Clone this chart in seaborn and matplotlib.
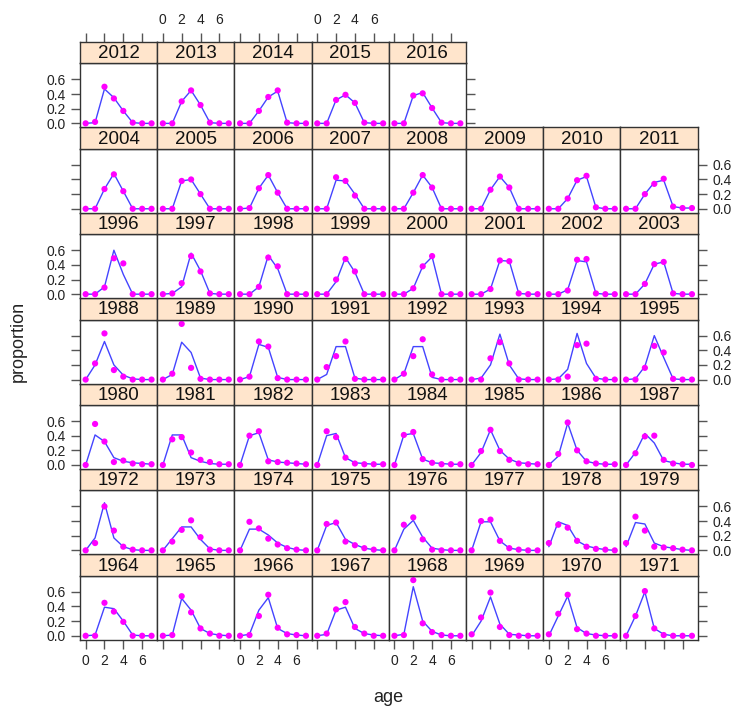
import matplotlib
matplotlib.use("Agg")
import matplotlib.pyplot as plt
import seaborn as sns

# catch-at-age proportions by year: observed points and fitted line
years = list(range(1964, 2017))
ages = [0, 1, 2, 3, 4, 5, 6, 7]

observed = [
    [0, 0, 0.45, 0.33, 0.19, 0, 0, 0],            # 1964
    [0, 0.01, 0.54, 0.32, 0.10, 0.03, 0, 0],      # 1965
    [0, 0.01, 0.27, 0.56, 0.11, 0.02, 0.01, 0],   # 1966
    [0, 0.03, 0.36, 0.46, 0.12, 0.03, 0, 0],      # 1967
    [0, 0.01, 0.76, 0.17, 0.05, 0.01, 0, 0],      # 1968
    [0.02, 0.25, 0.59, 0.12, 0.01, 0, 0, 0],      # 1969
    [0.02, 0.30, 0.56, 0.09, 0.03, 0, 0, 0],      # 1970
    [0, 0.27, 0.61, 0.10, 0.01, 0, 0, 0],         # 1971
    [0, 0.10, 0.60, 0.27, 0.05, 0.01, 0, 0],      # 1972
    [0, 0.12, 0.28, 0.41, 0.18, 0.01, 0, 0],      # 1973
    [0, 0.39, 0.30, 0.16, 0.08, 0.03, 0.01, 0],   # 1974
    [0, 0.36, 0.38, 0.12, 0.07, 0.03, 0.01, 0],   # 1975
    [0, 0.35, 0.45, 0.15, 0.01, 0, 0, 0],         # 1976
    [0, 0.40, 0.42, 0.13, 0.03, 0.01, 0, 0],      # 1977
    [0.10, 0.35, 0.31, 0.13, 0.05, 0.02, 0.01, 0],  # 1978
    [0.10, 0.46, 0.27, 0.05, 0.04, 0.03, 0.01, 0],  # 1979
    [0, 0.56, 0.32, 0.04, 0.06, 0.02, 0.01, 0.01],  # 1980
    [0, 0.35, 0.38, 0.17, 0.07, 0.04, 0.01, 0.01],  # 1981
    [0, 0.40, 0.46, 0.05, 0.04, 0.03, 0.02, 0.01],  # 1982
    [0, 0.46, 0.38, 0.10, 0.02, 0.01, 0.01, 0.01],  # 1983
    [0, 0.41, 0.45, 0.08, 0.03, 0.01, 0.01, 0.01],  # 1984
    [0, 0.19, 0.48, 0.19, 0.07, 0.02, 0.01, 0.01],  # 1985
    [0, 0.15, 0.58, 0.20, 0.05, 0.02, 0.01, 0.01],  # 1986
    [0, 0.16, 0.39, 0.40, 0.07, 0.02, 0.01, 0],     # 1987
    [0, 0.22, 0.63, 0.13, 0.04, 0, 0, 0],         # 1988
    [0, 0.08, 0.76, 0.16, 0.01, 0, 0, 0],         # 1989
    [0, 0.04, 0.52, 0.45, 0.02, 0, 0, 0],         # 1990
    [0, 0.17, 0.32, 0.52, 0.01, 0, 0, 0],         # 1991
    [0, 0.08, 0.32, 0.55, 0.07, 0, 0, 0],         # 1992
    [0, 0, 0.29, 0.51, 0.22, 0, 0, 0],            # 1993
    [0, 0, 0.04, 0.47, 0.49, 0.01, 0, 0],         # 1994
    [0, 0, 0.16, 0.46, 0.37, 0.01, 0, 0],         # 1995
    [0, 0, 0.09, 0.49, 0.42, 0, 0, 0],            # 1996
    [0, 0.01, 0.15, 0.52, 0.31, 0.01, 0, 0],      # 1997
    [0, 0, 0.10, 0.50, 0.38, 0, 0, 0],            # 1998
    [0, 0, 0.20, 0.48, 0.31, 0, 0, 0],            # 1999
    [0, 0, 0.08, 0.38, 0.52, 0, 0, 0],            # 2000
    [0, 0, 0.07, 0.46, 0.45, 0.01, 0, 0],         # 2001
    [0, 0, 0.05, 0.47, 0.48, 0.01, 0, 0],         # 2002
    [0, 0, 0.14, 0.41, 0.44, 0.01, 0, 0],         # 2003
    [0, 0, 0.27, 0.47, 0.24, 0, 0, 0],            # 2004
    [0, 0, 0.38, 0.40, 0.20, 0, 0, 0],            # 2005
    [0, 0.01, 0.28, 0.46, 0.22, 0, 0, 0],         # 2006
    [0, 0, 0.43, 0.38, 0.18, 0, 0, 0],            # 2007
    [0, 0, 0.22, 0.46, 0.29, 0, 0, 0],            # 2008
    [0, 0, 0.26, 0.44, 0.29, 0, 0, 0],            # 2009
    [0, 0, 0.14, 0.39, 0.45, 0.02, 0, 0],         # 2010
    [0, 0, 0.20, 0.34, 0.41, 0.03, 0.01, 0.01],   # 2011
    [0, 0.02, 0.50, 0.34, 0.17, 0.01, 0, 0],      # 2012
    [0, 0, 0.30, 0.45, 0.25, 0.01, 0, 0],         # 2013
    [0, 0, 0.17, 0.36, 0.45, 0.01, 0, 0],         # 2014
    [0, 0, 0.32, 0.39, 0.28, 0.01, 0, 0],         # 2015
    [0, 0, 0.38, 0.41, 0.21, 0.01, 0, 0],         # 2016
]

fitted = [
    [0, 0.01, 0.39, 0.37, 0.20, 0.01, 0, 0],      # 1964
    [0, 0.01, 0.51, 0.35, 0.10, 0.03, 0.01, 0],   # 1965
    [0, 0.02, 0.35, 0.52, 0.10, 0.03, 0.01, 0],   # 1966
    [0, 0.02, 0.35, 0.39, 0.10, 0.03, 0.01, 0],   # 1967
    [0, 0.02, 0.67, 0.20, 0.06, 0.01, 0, 0],      # 1968
    [0, 0.20, 0.53, 0.16, 0.02, 0.01, 0, 0],      # 1969
    [0, 0.27, 0.54, 0.11, 0.03, 0.01, 0, 0],      # 1970
    [0, 0.27, 0.60, 0.10, 0.02, 0, 0, 0],         # 1971
    [0, 0.17, 0.65, 0.17, 0.05, 0.01, 0, 0],      # 1972
    [0, 0.16, 0.32, 0.32, 0.15, 0.02, 0, 0],      # 1973
    [0, 0.29, 0.29, 0.21, 0.10, 0.04, 0.01, 0],   # 1974
    [0, 0.34, 0.38, 0.15, 0.08, 0.03, 0.01, 0],   # 1975
    [0, 0.29, 0.41, 0.18, 0.03, 0.01, 0, 0],      # 1976
    [0, 0.39, 0.39, 0.13, 0.03, 0.01, 0, 0],      # 1977
    [0.05, 0.39, 0.34, 0.13, 0.06, 0.03, 0.01, 0],  # 1978
    [0.05, 0.38, 0.36, 0.10, 0.05, 0.03, 0.01, 0],  # 1979
    [0, 0.41, 0.32, 0.10, 0.05, 0.03, 0.02, 0.01],  # 1980
    [0, 0.41, 0.41, 0.10, 0.05, 0.02, 0.01, 0.01],  # 1981
    [0, 0.40, 0.44, 0.07, 0.04, 0.03, 0.02, 0.01],  # 1982
    [0, 0.40, 0.43, 0.10, 0.03, 0.02, 0.01, 0.01],  # 1983
    [0, 0.41, 0.43, 0.08, 0.03, 0.02, 0.01, 0.01],  # 1984
    [0, 0.17, 0.48, 0.20, 0.08, 0.03, 0.02, 0.01],  # 1985
    [0, 0.12, 0.57, 0.20, 0.05, 0.02, 0.01, 0.01],  # 1986
    [0, 0.17, 0.43, 0.30, 0.06, 0.03, 0.01, 0.01],  # 1987
    [0, 0.20, 0.52, 0.20, 0.06, 0.01, 0, 0],      # 1988
    [0, 0.07, 0.51, 0.37, 0.02, 0, 0, 0],         # 1989
    [0, 0.04, 0.48, 0.44, 0.03, 0, 0, 0],         # 1990
    [0, 0.07, 0.45, 0.45, 0.02, 0, 0, 0],         # 1991
    [0, 0.08, 0.45, 0.45, 0.03, 0, 0, 0],         # 1992
    [0, 0.02, 0.20, 0.62, 0.20, 0.01, 0, 0],      # 1993
    [0, 0.01, 0.14, 0.63, 0.22, 0.02, 0, 0],      # 1994
    [0, 0.01, 0.18, 0.60, 0.30, 0.01, 0, 0],      # 1995
    [0, 0, 0.10, 0.60, 0.27, 0, 0, 0],            # 1996
    [0, 0.01, 0.10, 0.56, 0.32, 0.01, 0, 0],      # 1997
    [0, 0, 0.10, 0.53, 0.35, 0, 0, 0],            # 1998
    [0, 0, 0.17, 0.50, 0.30, 0, 0, 0],            # 1999
    [0, 0, 0.08, 0.38, 0.51, 0, 0, 0],            # 2000
    [0, 0, 0.07, 0.46, 0.45, 0.01, 0, 0],         # 2001
    [0, 0, 0.06, 0.46, 0.44, 0.01, 0, 0],         # 2002
    [0, 0, 0.14, 0.41, 0.44, 0.01, 0, 0],         # 2003
    [0, 0, 0.27, 0.48, 0.24, 0, 0, 0],            # 2004
    [0, 0, 0.38, 0.40, 0.20, 0, 0, 0],            # 2005
    [0, 0.01, 0.28, 0.46, 0.22, 0, 0, 0],         # 2006
    [0, 0, 0.39, 0.38, 0.20, 0, 0, 0],            # 2007
    [0, 0, 0.22, 0.46, 0.29, 0, 0, 0],            # 2008
    [0, 0, 0.26, 0.44, 0.29, 0, 0, 0],            # 2009
    [0, 0, 0.14, 0.39, 0.44, 0.02, 0, 0],         # 2010
    [0, 0, 0.20, 0.36, 0.39, 0.03, 0.01, 0.01],   # 2011
    [0, 0.01, 0.47, 0.35, 0.17, 0.01, 0, 0],      # 2012
    [0, 0, 0.30, 0.45, 0.25, 0.01, 0, 0],         # 2013
    [0, 0, 0.17, 0.36, 0.44, 0.01, 0, 0],         # 2014
    [0, 0, 0.32, 0.39, 0.28, 0.01, 0, 0],         # 2015
    [0, 0, 0.38, 0.42, 0.21, 0.01, 0, 0],         # 2016
]

x_ticks = [0, 2, 4, 6]
y_ticks = [0.0, 0.2, 0.4, 0.6]

sns.set_theme(style="white")
plt.rcParams['font.family'] = ['Liberation Sans', 'DejaVu Sans']

W, H = 741, 709
fig = plt.figure(figsize=(W / 100, H / 100), dpi=100)
fig.patch.set_facecolor('white')

# panel grid in pixels (lattice style)
left0, col_w = 80, 77.2
top0, row_h, strip_h = 42, 85.4, 21.3
n_cols, n_rows = 8, 7


def rect(x, y, w, h):
    return [x / W, 1 - (y + h) / H, w / W, h / H]


tick_kw = dict(length=6.5, width=1.0, color='#555555', labelsize=10, pad=4,
               direction='out', labelcolor='#222222')
frame_col = '#333333'

for i, yr in enumerate(years):
    rb = i // n_cols           # row from bottom
    col = i % n_cols
    rt = n_rows - 1 - rb       # row from top
    last_col = (col == n_cols - 1) or (yr == years[-1])
    x0 = left0 + col * col_w
    y_strip = top0 + rt * row_h

    ax = fig.add_axes(rect(x0, y_strip + strip_h, col_w, row_h - strip_h))
    sns.lineplot(x=ages, y=fitted[i], ax=ax, color='#4444ff', lw=1.0)
    sns.scatterplot(x=ages, y=observed[i], ax=ax, color='#ff00ff', s=20,
                    edgecolor='none', zorder=3)
    ax.set_xlim(-0.6, 7.6)
    ax.set_ylim(-0.055, 0.82)
    ax.set_xlabel('')
    ax.set_ylabel('')
    for sp in ax.spines.values():
        sp.set_color(frame_col)
        sp.set_linewidth(1.0)
    ax.set_facecolor('white')

    ax.set_xticks(x_ticks)
    ax.set_yticks(y_ticks)
    ax.set_yticklabels([f'{v:.1f}' for v in y_ticks])
    ax.tick_params(axis='both', **tick_kw)
    ax.tick_params(axis='x', bottom=(rb == 0), top=False,
                   labelbottom=(rb == 0 and col % 2 == 0), labeltop=False)
    ax.tick_params(axis='y', left=(col == 0), right=last_col,
                   labelleft=(col == 0 and rb % 2 == 0),
                   labelright=(last_col and col == n_cols - 1 and rb % 2 == 1))

    sax = fig.add_axes(rect(x0, y_strip, col_w, strip_h))
    sax.set_facecolor('#ffe5cc')
    sax.set_xlim(-0.6, 7.6)
    sax.set_ylim(0, 1)
    for sp in sax.spines.values():
        sp.set_color(frame_col)
        sp.set_linewidth(1.0)
    sax.set_yticks([])
    if rt == 0:
        sax.set_xticks(x_ticks)
        sax.tick_params(axis='x', **tick_kw)
        sax.tick_params(axis='x', bottom=False, labelbottom=False, top=True,
                        labeltop=(col % 2 == 1))
    else:
        sax.set_xticks([])
    sax.text(3.5, 0.45, str(yr), ha='center', va='center', fontsize=13.5,
             color='#111111')

fig.text(388.5 / W, 1 - 697 / H, 'age', ha='center', va='center',
         fontsize=13, color='#222222')
fig.text(18 / W, 1 - 341 / H, 'proportion', ha='center', va='center',
         rotation=90, fontsize=13, color='#222222')

fig.savefig('out.png', dpi=100)
